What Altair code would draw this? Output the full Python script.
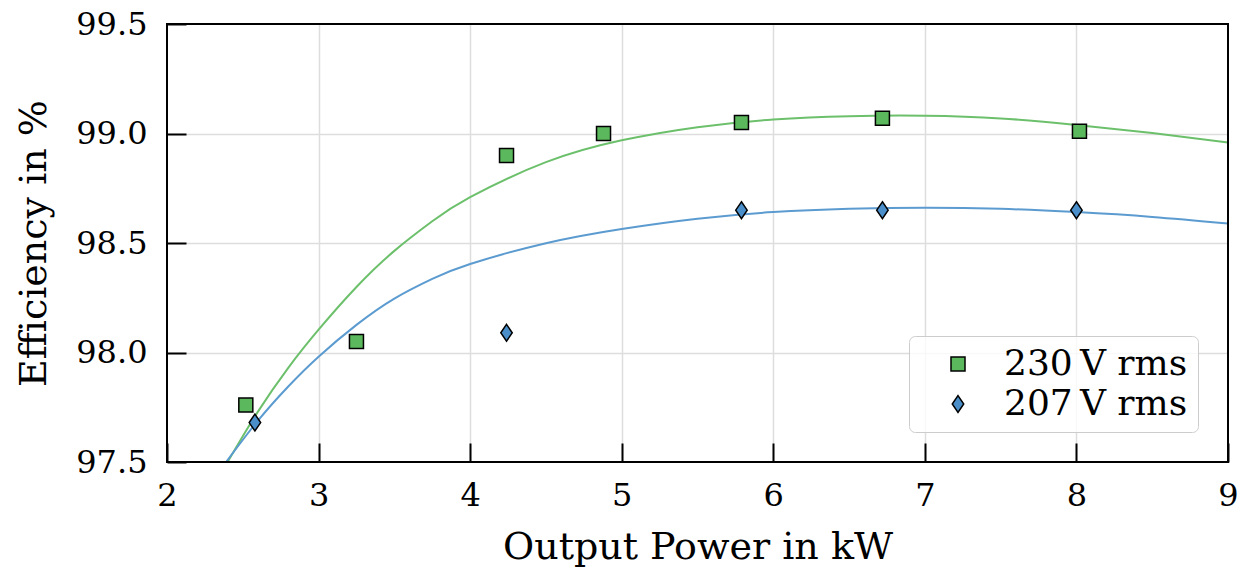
import altair as alt
import pandas as pd

# ---- data ----
series_names = ["230\u2009V rms", "207\u2009V rms"]

meas_230_x = [2.52, 3.25, 4.24, 4.88, 5.79, 6.72, 8.02]
meas_230_y = [97.76, 98.05, 98.90, 99.00, 99.05, 99.07, 99.01]
meas_207_x = [2.58, 4.24, 5.79, 6.72, 8.00]
meas_207_y = [97.68, 98.09, 98.65, 98.65, 98.65]

fit_230_x = [2.40, 2.6, 2.8, 3.0, 3.25, 3.5, 3.75, 4.0, 4.5, 5.0, 5.5, 6.0, 6.5, 7.0, 7.5, 8.0, 8.5, 9.0]
fit_230_y = [97.50, 97.73, 97.93, 98.104, 98.299, 98.464, 98.599, 98.709, 98.869, 98.969,
             99.029, 99.064, 99.079, 99.081, 99.069, 99.039, 99.002, 98.959]
fit_207_x = [2.39, 2.6, 2.8, 3.0, 3.25, 3.5, 3.75, 4.0, 4.5, 5.0, 5.5, 6.0, 6.5, 7.0, 7.5, 8.0, 8.5, 9.0]
fit_207_y = [97.50, 97.689, 97.845, 97.981, 98.126, 98.246, 98.336, 98.404, 98.499, 98.564,
             98.611, 98.641, 98.656, 98.661, 98.656, 98.641, 98.619, 98.589]

x_ticks = [2, 3, 4, 5, 6, 7, 8, 9]
y_ticks = [97.5, 98.0, 98.5, 99.0, 99.5]

marker_fill = ["#5cb85c", "#4a8fc9"]
marker_edge = ["black", "black"]
line_color = ["#6cc06b", "#5b9bd0"]
diamond_path = "M0,-1.2L0.82,0L0,1.2L-0.82,0Z"

# ---- tables ----
df_meas = pd.DataFrame({
    "x": meas_230_x + meas_207_x,
    "y": meas_230_y + meas_207_y,
    "series": [series_names[0]] * len(meas_230_x) + [series_names[1]] * len(meas_207_x),
})
df_fit_230 = pd.DataFrame({"x": fit_230_x, "y": fit_230_y})
df_fit_207 = pd.DataFrame({"x": fit_207_x, "y": fit_207_y})

FONT = "DejaVu Serif"
W, H = 1061, 438
xscale = alt.Scale(domain=[2, 9], nice=False, zero=False)
yscale = alt.Scale(domain=[97.5, 99.5], nice=False, zero=False)

edge_x = {"condition": {"test": "datum.value <= 2 || datum.value >= 9", "value": 0}, "value": 1}
edge_y = {"condition": {"test": "datum.value <= 97.5 || datum.value >= 99.5", "value": 0}, "value": 1}

xaxis = alt.Axis(values=x_ticks, format="d", title="Output Power in kW",
                 offset=-19, tickSize=19, domain=False, labelPadding=18,
                 labelFlush=False, titlePadding=17, grid=True, gridOpacity=edge_x)
yaxis = alt.Axis(values=y_ticks, format=".1f", title="Efficiency in %",
                 offset=-19, tickSize=19, domain=False, labelPadding=20,
                 labelFlush=False, titlePadding=22, grid=True, gridOpacity=edge_y)

line_230 = alt.Chart(df_fit_230).mark_line(
    strokeWidth=2, interpolate="natural", color=line_color[0]
).encode(
    x=alt.X("x:Q", scale=xscale, axis=xaxis),
    y=alt.Y("y:Q", scale=yscale, axis=yaxis),
)
line_207 = alt.Chart(df_fit_207).mark_line(
    strokeWidth=2, interpolate="natural", color=line_color[1]
).encode(
    x=alt.X("x:Q", scale=xscale),
    y=alt.Y("y:Q", scale=yscale),
)

legend = alt.Legend(orient="bottom-right", offset=30, title=None,
                    padding=10, symbolOffset=21, labelOffset=28, rowPadding=4,
                    labelFont=FONT, labelFontSize=36, labelColor="black", labelLimit=400,
                    symbolSize=196, symbolStrokeWidth=1.5,
                    symbolOpacity=1, fillColor="#ffffffcc", strokeColor="#cccccc",
                    cornerRadius=6)

points = alt.Chart(df_meas).mark_point(filled=True, strokeWidth=1.5,
                                       opacity=1, fillOpacity=1, size=196).encode(
    x=alt.X("x:Q", scale=xscale),
    y=alt.Y("y:Q", scale=yscale),
    fill=alt.Fill("series:N", scale=alt.Scale(domain=series_names, range=marker_fill),
                  legend=legend),
    stroke=alt.Stroke("series:N", scale=alt.Scale(domain=series_names, range=marker_edge),
                      legend=legend),
    shape=alt.Shape("series:N", scale=alt.Scale(domain=series_names, range=["square", diamond_path]),
                    legend=legend),
)

frame = alt.Chart(pd.DataFrame({"k": [0]})).mark_rect(
    filled=False, stroke="black", strokeWidth=2
).encode(x=alt.value(0), x2=alt.value(W), y=alt.value(0), y2=alt.value(H))

chart = alt.layer(line_230, line_207, points, frame).properties(
    width=W, height=H,
    autosize=alt.AutoSizeParams(type="none"),
    padding={"left": 159, "top": 16, "right": 10, "bottom": 106},
).configure_view(
    stroke=None
).configure_axis(
    labelFont=FONT, titleFont=FONT, labelFontSize=32, titleFontSize=38,
    labelColor="black", titleColor="black", titleFontWeight="normal",
    tickColor="black", tickWidth=2, gridColor="#dddddd", gridWidth=1.5,
)

chart.save("out.html", embed_options={"renderer": "svg", "actions": False})
